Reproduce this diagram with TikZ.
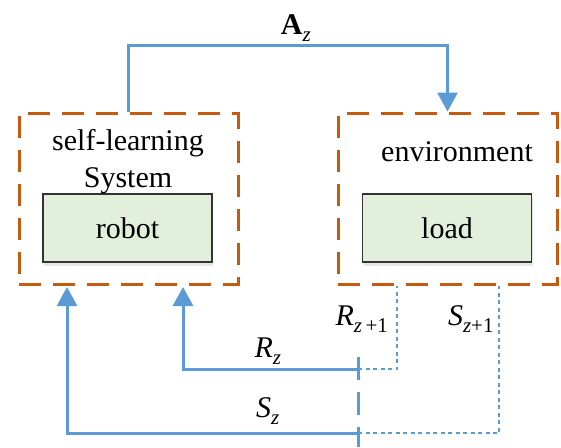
\documentclass[tikz,border=0pt]{standalone}
\usepackage{amsmath}
\usepackage{fontspec}
\setmainfont{Liberation Serif}
\usetikzlibrary{arrows.meta,shadows}
\definecolor{boxorange}{RGB}{197,90,17}
\definecolor{flowblue}{RGB}{91,155,213}
\definecolor{innergreen}{RGB}{226,239,218}
\tikzset{
  group/.style={draw=boxorange,line width=3pt,dash pattern=on 22pt off 12pt,minimum width=219pt,minimum height=171pt},
  unit/.style={draw=black!80,line width=1.2pt,fill=innergreen,minimum width=169pt,minimum height=68pt,
    drop shadow={opacity=0.2,shadow xshift=1pt,shadow yshift=-4pt},font=\fontsize{30}{36}\selectfont},
  flow/.style={draw=flowblue,line width=3pt,-{Triangle[width=20pt,length=19pt]}},
  link/.style={draw=flowblue,line width=3pt},
  dotline/.style={draw=flowblue,line width=2.4pt,dash pattern=on 4pt off 3.5pt},
  lbl/.style={font=\fontsize{30}{34}\selectfont}
}
\newcommand{\lowsub}[1]{_{\raisebox{-3pt}{$\scriptstyle #1$}}}
\begin{document}
\begin{tikzpicture}[x=1pt,y=-1pt]
  \useasboundingbox (0,0) rectangle (561,447);
  % the two groups and their units
  \node[group] (sys) at (128.5,198.5) {};
  \node[group] (env) at (447.5,198.5) {};
  \node[unit] (robot) at (127.5,228) {robot};
  \node[unit] (load) at (447,228) {load};
  \node[align=center,font=\fontsize{30}{37}\selectfont] (systxt) at (128,162) {self-learning\\System};
  \node[font=\fontsize{30}{36}\selectfont] (envtxt) at (457,152) {environment};
  % action
  \draw[flow] (sys.north) -- ++(0,-66) -| (env.north);
  \node[lbl] (az) at (296,28) {$\textbf{A}\lowsub{\textit{z}}$};
  % feedback
  \coordinate (rj) at (358,369);
  \coordinate (sj) at (358,433);
  \coordinate (rin) at (183,287);
  \coordinate (sin) at (67,287);
  \draw[flow] (rj) -| (rin);
  \draw[flow] (sj) -| (sin);
  \draw[dotline] (rj) -| (397,0 |- env.south);
  \draw[dotline] (sj) -| (499,0 |- env.south);
  \coordinate (cuttop) at (358,357);
  \coordinate (cutbot) at (358,447);
  \draw[link,dash pattern=on 23pt off 12pt] (cuttop) -- (cutbot);
  \node[lbl] (rz) at (268,351) {$\textit{R}\lowsub{\textit{z}}$};
  \node[lbl] (sz) at (268,411) {$\textit{S}\lowsub{\textit{z}}$};
  \node[lbl] (rz1) at (362,319) {$\textit{R}\lowsub{\textit{z}\,\text{+1}}$};
  \node[lbl] (sz1) at (471,319) {$\textit{S}\lowsub{\textit{z}\text{+1}}$};
\end{tikzpicture}
\end{document}
